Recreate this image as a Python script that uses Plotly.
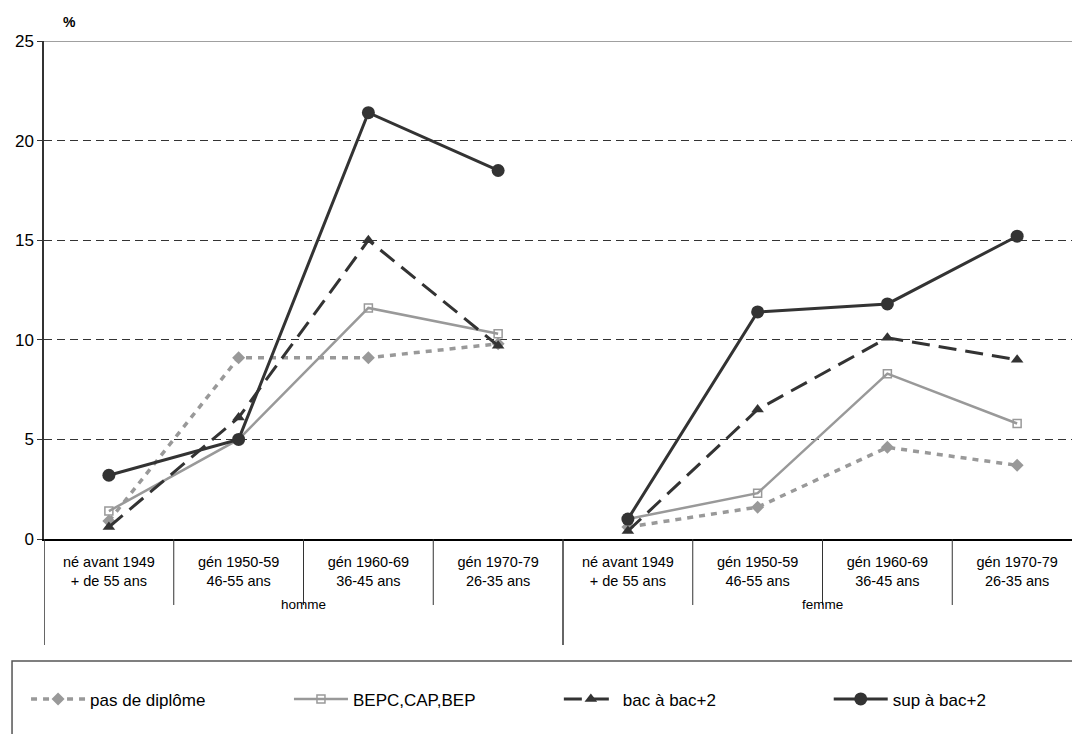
import plotly.graph_objects as go

# categories
sexes = ["homme", "femme"]
cohorts = ["né avant 1949<br>+ de 55 ans", "gén 1950-59<br>46-55 ans",
           "gén 1960-69<br>36-45 ans", "gén 1970-79<br>26-35 ans"]

# % par niveau de diplôme : 4 générations homme puis 4 femme
pas_de_diplome = [0.9, 9.1, 9.1, 9.8, 0.6, 1.6, 4.6, 3.7]
bepc_cap_bep = [1.4, 5.0, 11.6, 10.3, 1.0, 2.3, 8.3, 5.8]
bac_bac2 = [0.6, 6.1, 15.0, 9.7, 0.4, 6.5, 10.1, 9.0]
sup_bac2 = [3.2, 5.0, 21.4, 18.5, 1.0, 11.4, 11.8, 15.2]

dark = "#333333"
grey = "#999999"
n = len(cohorts)
labels = cohorts * len(sexes)
pos = list(range(len(labels)))

series = [
    ("pas de diplôme", pas_de_diplome, dict(color=grey, width=3.5, dash="6px,6px"),
     dict(symbol="diamond", size=10, color=grey)),
    ("BEPC,CAP,BEP", bepc_cap_bep, dict(color=grey, width=2.5),
     dict(symbol="square-open", size=8, color=grey, line=dict(width=1.5))),
    ("bac à bac+2", bac_bac2, dict(color=dark, width=3, dash="18px,9px"),
     dict(symbol="triangle-up", size=11, color=dark)),
    ("sup à bac+2", sup_bac2, dict(color=dark, width=3),
     dict(symbol="circle", size=13, color=dark)),
]
legend_x = [-0.0173, 0.236, 0.496, 0.756]

fig = go.Figure()
for k, (name, vals, line, marker) in enumerate(series):
    leg = "legend" if k == 0 else f"legend{k + 1}"
    # une trace par sexe pour ne pas relier homme et femme
    for s in range(len(sexes)):
        sl = slice(s * n, (s + 1) * n)
        fig.add_trace(go.Scatter(x=pos[sl], y=vals[sl], name=name, mode="lines+markers",
                                 line=line, marker=marker, legendgroup=name, legend=leg,
                                 showlegend=(s == 0)))

legend_style = dict(orientation="h", y=-0.322, yanchor="middle", xanchor="left",
                    itemwidth=54, font=dict(size=17), bgcolor="rgba(0,0,0,0)")
fig.update_layout(
    width=1080, height=734,
    margin=dict(l=36, r=6, t=33, b=203),
    paper_bgcolor="white", plot_bgcolor="white",
    font=dict(family="Liberation Sans, Arial", size=14, color="black"),
    showlegend=True,
    legend=dict(x=legend_x[0], **legend_style),
    legend2=dict(x=legend_x[1], **legend_style),
    legend3=dict(x=legend_x[2], **legend_style),
    legend4=dict(x=legend_x[3], **legend_style),
)
fig.update_xaxes(
    range=[-0.5, len(labels) - 0.5], tickvals=pos, ticktext=labels,
    showline=True, linecolor="black", linewidth=1.5, ticks="",
    ticklabelstandoff=9, showgrid=False, zeroline=False, tickfont=dict(size=14.5),
)
fig.update_yaxes(
    range=[0, 25], dtick=5, showline=True, linecolor=dark, linewidth=1.5,
    ticks="outside", ticklen=5, tickcolor=dark,
    showgrid=True, gridcolor=dark, gridwidth=1, griddash="8px,5px",
    zeroline=False, tickfont=dict(size=17),
)

# séparateurs sous l'axe : générations puis sexes
for b in range(len(labels) + 1):
    outer = b % n == 0
    fig.add_shape(type="line", xref="x", yref="paper", x0=b - 0.5, x1=b - 0.5,
                  y0=0, y1=-0.213 if outer else -0.1325,
                  line=dict(color=dark, width=1.5 if outer else 1))
for s, sex in enumerate(sexes):
    fig.add_annotation(text=sex, xref="x", yref="paper", x=s * n + (n - 1) / 2, y=-0.1325,
                       yanchor="middle", showarrow=False, font=dict(size=13.5))

# ligne du haut et cadre de la légende
fig.add_shape(type="line", xref="paper", yref="y", x0=0, x1=1, y0=25, y1=25,
              line=dict(color="#808080", width=1.5))
fig.add_shape(type="rect", xref="paper", yref="paper", x0=-0.0308, x1=1.02, y0=-0.245, y1=-0.45,
              line=dict(color="#555555", width=1.5))
fig.add_annotation(text="<b>%</b>", xref="paper", yref="paper", x=0.016, y=1.058,
                   showarrow=False, font=dict(size=14))

fig.write_html("out.html")
